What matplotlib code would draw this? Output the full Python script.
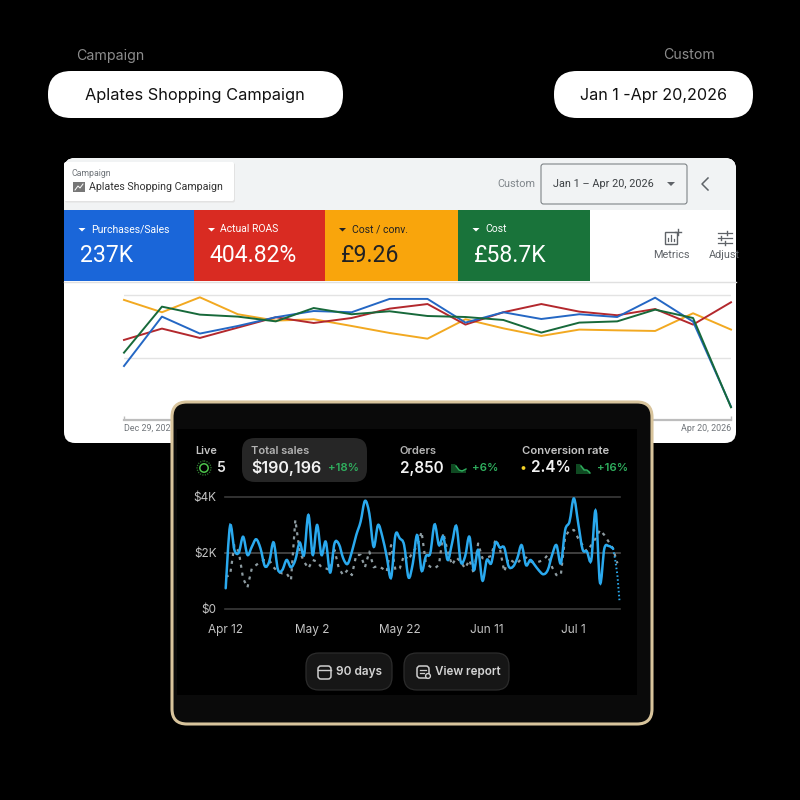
import matplotlib
matplotlib.use('Agg')
import matplotlib.pyplot as plt
import numpy as np
from matplotlib.patches import FancyBboxPatch, Rectangle, Circle, Polygon, PathPatch
from matplotlib.path import Path

# Google Ads card: one point per week, percent of the axis height
ads_labels = ['Dec 29, 2025', 'Apr 20, 2026']
ads_blue = [43.3, 82.9, 69.3, 75.4, 82.4, 87.4, 86.4, 97.1, 97.1, 78.1, 86.4, 81.0, 84.8, 82.6, 98.1, 78.9, 10.7]
ads_red = [64.2, 73.3, 65.8, 74.1, 82.4, 77.8, 81.8, 89.3, 93.0, 76.5, 86.4, 93.0, 86.9, 84.0, 89.0, 76.5, 94.4]
ads_yellow = [96.3, 86.4, 98.4, 84.8, 79.7, 80.8, 75.4, 69.8, 65.2, 80.8, 73.5, 67.4, 72.5, 71.9, 71.4, 85.6, 72.5]
ads_green = [54.0, 90.9, 84.5, 82.9, 79.1, 89.8, 84.8, 87.2, 83.4, 82.6, 80.2, 70.1, 78.1, 79.1, 88.5, 81.8, 10.2]

tile_names = ['Purchases/Sales', 'Actual ROAS', 'Cost / conv.', 'Cost']
tile_values = ['237K', '404.82%', '£9.26', '£58.7K']

# Shopify style panel: daily sales in $K
sales_current = [0.73, 2.96, 2.10, 2.00, 2.57, 1.92, 2.21, 2.48, 2.15, 1.52, 1.68, 2.37, 1.40, 1.38, 1.74, 1.48,
                 1.74, 2.36, 1.92, 3.35, 1.92, 2.99, 1.92, 2.39, 1.29, 2.33, 2.31, 1.80, 1.60, 2.04, 2.63, 3.11,
                 3.85, 3.40, 2.21, 2.99, 2.57, 1.86, 1.11, 2.63, 2.51, 2.27, 1.12, 1.62, 2.63, 1.36, 1.88, 1.98,
                 3.01, 2.27, 2.57, 1.74, 2.33, 2.95, 1.68, 1.86, 2.57, 1.38, 2.10, 1.00, 1.74, 1.62, 2.36, 2.18,
                 2.18, 1.52, 1.50, 1.80, 2.27, 1.56, 1.74, 1.56, 1.36, 1.23, 1.38, 1.92, 2.27, 1.62, 2.81, 3.11,
                 3.94, 3.05, 2.12, 2.04, 1.74, 3.50, 0.93, 2.15, 2.24, 2.15]
sales_tail_days = [89, 89.5, 90, 90.5]
sales_tail = [2.15, 1.75, 1.2, 0.25]
sales_previous = [1.14, 1.20, 2.27, 2.04, 1.08, 0.76, 1.44, 1.56, 1.68, 1.74, 1.74, 1.48, 1.32, 1.26, 1.26, 1.02,
                  3.17, 2.04, 1.68, 1.44, 1.74, 1.68, 1.48, 1.44, 1.38, 2.10, 1.44, 1.20, 1.38, 1.20, 1.92, 1.92,
                  1.48, 2.04, 1.48, 1.52, 1.44, 1.32, 2.27, 1.38, 1.44, 1.92, 1.74, 2.04, 2.21, 2.75, 1.62, 1.50,
                  1.44, 1.56, 2.71, 2.04, 1.56, 1.83, 1.68, 1.44, 1.74, 1.26, 2.33, 1.80, 1.83, 1.88, 2.48, 2.15,
                  1.32, 1.80, 1.68, 1.62, 1.80, 1.83, 1.68, 1.64, 1.68, 1.74, 1.92, 1.48, 1.20, 1.20, 2.57, 2.81,
                  2.81, 2.51, 2.27, 2.04, 2.27, 2.51, 2.81, 2.63, 2.39, 2.15, 1.62]
sales_ticks = [0, 20, 40, 60, 80]
sales_tick_labels = ['Apr 12', 'May 2', 'May 22', 'Jun 11', 'Jul 1']
money_ticks = [0, 2, 4]
money_labels = ['$0', '$2K', '$4K']

W = 800
UI = 'Roboto'
SANS = 'Inter'


def px_axes(fig, left, top, right, bottom, zorder):
    # axes placed with pixel edges, y measured from the top of the image
    ax = fig.add_axes([left / W, 1 - bottom / W, (right - left) / W, (bottom - top) / W], zorder=zorder)
    ax.patch.set_alpha(0)
    return ax


def round_box(ax, x0, y0, x1, y1, r, **kw):
    box = FancyBboxPatch((x0, y0), x1 - x0, y1 - y0, boxstyle=f'round,pad=0,rounding_size={r}', **kw)
    ax.add_patch(box)
    return box


def smooth_path(x, y):
    # Catmull-Rom through the daily values, drawn as bezier segments
    pts = np.column_stack([x, y])
    verts = [pts[0]]
    codes = [Path.MOVETO]
    for i in range(len(pts) - 1):
        p0 = pts[max(i - 1, 0)]
        p1 = pts[i]
        p2 = pts[i + 1]
        p3 = pts[min(i + 2, len(pts) - 1)]
        verts += [p1 + (p2 - p0) / 6, p2 - (p3 - p1) / 6, p2]
        codes += [Path.CURVE4] * 3
    return Path(verts, codes)


fig = plt.figure(figsize=(8, 8), dpi=100, facecolor='black')

# ---- background layer, coordinates are image pixels
bg = px_axes(fig, 0, 0, W, W, 0)
bg.set_xlim(0, W)
bg.set_ylim(W, 0)
bg.axis('off')

bg.text(110, 56, 'Campaign', color='#8c8c8c', fontsize=10.2, family=SANS, ha='center', va='center')
bg.text(689, 55, 'Custom', color='#8c8c8c', fontsize=10.2, family=SANS, ha='center', va='center')
round_box(bg, 48, 71, 343, 118, 23, fc='white', ec='none')
round_box(bg, 554, 71, 753, 118, 23, fc='white', ec='none')
bg.text(195, 95.5, 'Aplates Shopping Campaign', color='#111111', fontsize=11.8, family=SANS, ha='center', va='center')
bg.text(653, 95.5, 'Jan 1 -Apr 20,2026', color='#111111', fontsize=11.6, family=SANS, ha='center', va='center')

card = round_box(bg, 64, 158, 736, 443, 11, fc='white', ec='none')
band = Rectangle((64, 158), 672, 52, fc='#f1f3f4', ec='none')
bg.add_patch(band)
band.set_clip_path(card)
round_box(bg, 65, 163, 235, 202.5, 2, fc='#e2e2e2', ec='none')
box = round_box(bg, 64, 162, 234, 201, 2, fc='white', ec='none')
bg.text(72, 173.5, 'Campaign', color='#70757a', fontsize=6.3, family=UI, va='center')
bg.add_patch(Rectangle((73, 182), 12, 10, fc='#777777', ec='none'))
bg.plot([75, 78, 80, 83], [190, 186, 188, 184], color='white', lw=0.7)
bg.text(89, 187, 'Aplates Shopping Campaign', color='#333333', fontsize=7.7, family=UI, va='center')
bg.text(497, 184, 'Custom', color='#80868b', fontsize=7.8, family=UI, va='center')
round_box(bg, 541, 164, 687, 204, 2.5, fc='#f1f3f4', ec='#6f7478', lw=0.7)
bg.text(553, 184, 'Jan 1 – Apr 20, 2026', color='#3c4043', fontsize=7.8, family=UI, va='center')
bg.add_patch(Polygon([[667, 182], [675, 182], [671, 186]], fc='#5f6368', ec='none'))
bg.plot([708, 702, 708], [178, 184, 190], color='#5f6368', lw=1.1)

tile_edges = [64, 193.5, 324.5, 458, 589.5]
tile_colors = ['#1a66d9', '#d92b22', '#f9a50c', '#19733a']
tile_text = ['white', 'white', '#202124', 'white']
for i in range(4):
    x0 = tile_edges[i]
    bg.add_patch(Rectangle((x0, 210), tile_edges[i + 1] - x0, 71, fc=tile_colors[i], ec='none'))
    tri = x0 + 18
    bg.add_patch(Polygon([[tri - 3.5, 228], [tri + 3.5, 228], [tri, 231.5]], fc=tile_text[i], ec='none'))
    bg.text(x0 + 27, 229.5, tile_names[i], color=tile_text[i], fontsize=7.5, family=UI, va='center')
    bg.text(x0 + 16, 255.5, tile_values[i], color=tile_text[i], fontsize=16.6, family=UI, va='center')
bg.plot([64, 736], [281.5, 281.5], color='#e0e0e0', lw=1)

# metrics / adjust buttons
bg.add_patch(Rectangle((665, 232), 12, 12, fc='none', ec='#5f6368', lw=1))
bg.plot([668, 668], [241, 238], color='#5f6368', lw=0.9)
bg.plot([671, 671], [241, 235], color='#5f6368', lw=0.9)
bg.plot([674, 674], [241, 239], color='#5f6368', lw=0.9)
bg.plot([675, 681], [232, 232], color='#5f6368', lw=1)
bg.plot([678, 678], [229, 235], color='#5f6368', lw=1)
bg.text(671, 255.5, 'Metrics', color='#5f6368', fontsize=7.8, family=UI, ha='center', va='center')
for yy, knob in zip([232.5, 237.5, 242.5], [727, 721, 725]):
    bg.plot([718, 732], [yy, yy], color='#5f6368', lw=0.9)
    bg.plot([knob, knob], [yy - 2, yy + 2], color='#5f6368', lw=1)
bg.text(709, 255.5, 'Adjust', color='#5f6368', fontsize=7.8, family=UI, va='center', clip_on=True).set_clip_path(card)

# ---- ads line chart
ads = px_axes(fig, 124, 285, 731, 420, 1)
ads.set_xlim(0, 16)
ads.set_ylim(0, 135 / 124.7 * 100)
days = np.arange(len(ads_blue))
for yy in [50, 100]:
    ads.axhline(yy, color='#e3e3e3', lw=1)
ads.plot(days, ads_yellow, color='#f2a921', lw=1.4, clip_on=False)
ads.plot(days, ads_red, color='#b3282d', lw=1.4, clip_on=False)
ads.plot(days, ads_blue, color='#2467c4', lw=1.4, clip_on=False)
ads.plot(days, ads_green, color='#17693a', lw=1.4, clip_on=False)
for side in ['top', 'left', 'right']:
    ads.spines[side].set_visible(False)
ads.spines['bottom'].set_color('#bdbdbd')
ads.spines['bottom'].set_linewidth(1.6)
ads.set_yticks([])
ads.set_xticks([0, 16])
ads.set_xticklabels(ads_labels, fontsize=6.4, color='#70757a', family=UI)
ads.get_xticklabels()[0].set_ha('left')
ads.get_xticklabels()[1].set_ha('right')
ads.tick_params(axis='x', direction='in', length=3, width=1, color='#bdbdbd', pad=3)

# ---- dark panel on top of the card
top = px_axes(fig, 0, 0, W, W, 2)
top.set_xlim(0, W)
top.set_ylim(W, 0)
top.axis('off')
round_box(top, 172, 402, 652, 724, 15, fc='#0a0a0a', ec='#d8c49c', lw=2.2)
top.add_patch(Rectangle((177, 429), 460, 266, fc='black', ec='none'))
round_box(top, 242, 438, 367, 482, 13, fc='#262626', ec='none')

label = dict(family=SANS, va='center', fontweight='semibold')
top.text(195, 451, 'Live', color='#c4c4c4', fontsize=7.8, **label)
top.add_patch(Circle((204, 468), 4.2, fc='none', ec='#4cc34a', lw=1.1))
top.add_patch(Circle((204, 468), 7, fc='none', ec='#2f7a30', lw=0.9, ls=(0, (1, 1))))
top.text(217, 468, '5', color='#e6e6e6', fontsize=10, **label)
top.text(251, 451, 'Total sales', color='#b4b4b4', fontsize=8, **label)
top.text(251, 468, '$190,196', color='#f2f2f2', fontsize=11.6, **label)
top.text(328, 468, '+18%', color='#2faf5e', fontsize=8.2, **label)
top.text(400, 451, 'Orders', color='#b4b4b4', fontsize=8, **label)
top.text(400, 468, '2,850', color='#f2f2f2', fontsize=11, **label)
top.text(472, 468, '+6%', color='#2faf5e', fontsize=8.2, **label)
top.text(522, 451, 'Conversion rate', color='#c4c4c4', fontsize=8.1, **label)
top.add_patch(Circle((523.5, 468), 1.9, fc='#f5d328', ec='none'))
top.text(531, 468, '2.4%', color='#f2f2f2', fontsize=11, **label)
top.text(597, 468, '+16%', color='#2faf5e', fontsize=8.2, **label)

# little trend marks next to orders and conversion
top.add_patch(Polygon([[451, 464], [455, 464], [459, 470], [466, 470], [466, 473], [451, 473]], fc='#0f4a22', ec='none'))
top.plot([456, 459, 462, 466], [466, 470, 471, 469], color='#2faf5e', lw=1)
top.add_patch(Polygon([[576, 464], [580, 464], [586, 470], [590, 471], [590, 474], [576, 474]], fc='#0f4a22', ec='none'))
top.plot([581, 584, 587, 590], [466, 470, 470, 473], color='#2faf5e', lw=1)

# footer buttons
round_box(top, 306, 653, 392, 690, 13, fc='#161616', ec='#2c2c2c', lw=0.9)
round_box(top, 404, 653, 509, 690, 13, fc='#161616', ec='#2c2c2c', lw=0.9)
round_box(top, 318, 666, 331, 679, 3, fc='none', ec='#cfcfcf', lw=1.1)
top.plot([318, 331], [670, 670], color='#cfcfcf', lw=1)
round_box(top, 417, 666, 429, 678, 3, fc='none', ec='#cfcfcf', lw=1.1)
top.plot([420, 426], [669.5, 669.5], color='#cfcfcf', lw=0.9)
top.plot([420, 424], [673, 673], color='#cfcfcf', lw=0.9)
top.add_patch(Circle((428, 676), 2.4, fc='#161616', ec='#cfcfcf', lw=1))
top.text(336, 672, '90 days', color='#d4d4d4', fontsize=8.5, **label)
top.text(435, 672, 'View report', color='#d4d4d4', fontsize=8.4, **label)

# ---- sales chart
sales = px_axes(fig, 225, 496.7, 620, 608.7, 3)
sales.set_xlim(-0.16, 90.6)
sales.set_ylim(0, 4)
for yy, col in zip(money_ticks, ['#3a3a3a', '#4a4a4a', '#3a3a3a']):
    sales.axhline(yy, color=col, lw=1.2, zorder=1, clip_on=False)
sales.plot(np.arange(len(sales_previous)), sales_previous, color='#8d9ba1', lw=1.6,
           ls=(0, (1.4, 2.2)), clip_on=False, zorder=2)
sales.add_patch(PathPatch(smooth_path(np.arange(len(sales_current)), sales_current), fc='none',
                          ec='#2aa9ee', lw=1.8, clip_on=False, zorder=3, capstyle='round'))
sales.plot(sales_tail_days, sales_tail, color='#2aa9ee', lw=1.4, ls=(0, (0.8, 1.2)), clip_on=False, zorder=3)
for spine in sales.spines.values():
    spine.set_visible(False)
sales.set_yticks(money_ticks)
sales.set_yticklabels(money_labels, fontsize=8.5, color='#c4c4c4', family=SANS)
sales.set_xticks(sales_ticks)
sales.set_xticklabels(sales_tick_labels, fontsize=8.5, color='#c4c4c4', family=SANS)
sales.tick_params(axis='both', length=0)
sales.tick_params(axis='y', pad=6)
sales.tick_params(axis='x', pad=11)

fig.savefig('out.png', dpi=100, facecolor='black')
